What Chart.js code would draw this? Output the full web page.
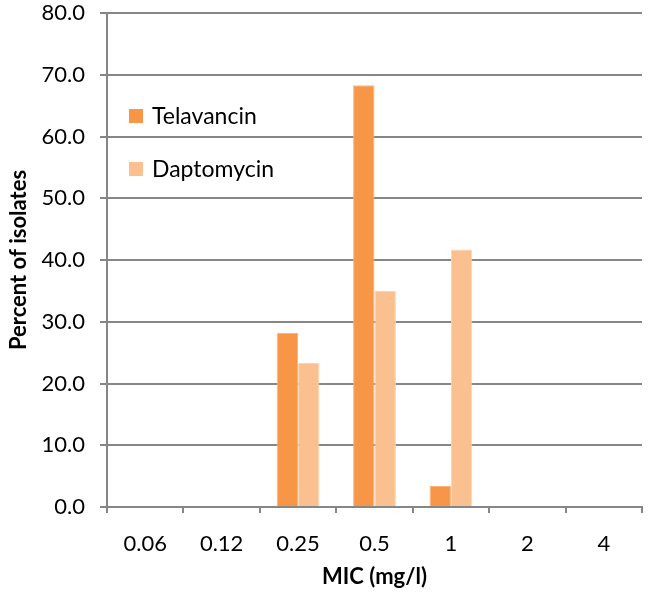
<!DOCTYPE html>
<html>
<head>
<meta charset="utf-8">
<script src="https://cdn.jsdelivr.net/npm/chart.js@4/dist/chart.umd.min.js"></script>
<style>
  html, body { margin: 0; padding: 0; background: #fff; }
  #wrap { width: 648px; height: 597px; }
</style>
</head>
<body>
<div id="wrap"><canvas id="micChart"></canvas></div>
<script>
const micLabels = ['0.06', '0.12', '0.25', '0.5', '1', '2', '4'];
const telavancin = [0, 0, 28.2, 68.3, 3.4, 0, 0];
const daptomycin = [0, 0, 23.3, 35.0, 41.7, 0, 0];
const seriesNames = ['Telavancin', 'Daptomycin'];
const seriesColors = ['#F79646', '#FAC090'];

const fontFamily = 'Lato, "Open Sans", sans-serif';
const axisGrey = '#868686';

// legend drawn inside plot area, top left
const insideLegend = {
    id: 'insideLegend',
    afterDraw(chart) {
        const ctx = chart.ctx;
        const area = chart.chartArea;
        ctx.save();
        ctx.font = '23px ' + fontFamily;
        ctx.textBaseline = 'middle';
        chart.data.datasets.forEach((ds, i) => {
            const y = area.top + 103 + i * 53;
            ctx.fillStyle = ds.backgroundColor;
            ctx.fillRect(area.left + 22, y - 7, 14, 14);
            ctx.fillStyle = '#000';
            ctx.fillText(ds.label, area.left + 45, y + 1);
        });
        ctx.restore();
    }
};

new Chart(document.getElementById('micChart'), {
    type: 'bar',
    data: {
        labels: micLabels,
        datasets: [
            { label: seriesNames[0], data: telavancin, backgroundColor: seriesColors[0], borderColor: '#FBB27A', borderWidth: 1 },
            { label: seriesNames[1], data: daptomycin, backgroundColor: seriesColors[1], borderColor: '#FCD4B0', borderWidth: 1 }
        ]
    },
    options: {
        responsive: true,
        maintainAspectRatio: false,
        animation: false,
        datasets: { bar: { categoryPercentage: 0.56, barPercentage: 1.0 } },
        layout: { padding: { top: 13, right: 6, left: 0, bottom: 0 } },
        plugins: {
            legend: { display: false },
            tooltip: { enabled: false }
        },
        scales: {
            x: {
                grid: { display: true, drawOnChartArea: false, drawTicks: true, tickLength: 6, color: axisGrey, lineWidth: 2, offset: true },
                border: { display: true, color: axisGrey, width: 2 },
                ticks: { color: '#000', font: { family: fontFamily, size: 22 }, padding: 18 },
                title: { display: true, text: 'MIC (mg/l)', color: '#000', font: { family: fontFamily, size: 22, weight: 'bold' }, padding: { top: 4, bottom: 7 } },
                afterFit(scale) { scale.height = 90; }
            },
            y: {
                min: 0,
                max: 80,
                ticks: { stepSize: 10, color: '#000', font: { family: fontFamily, size: 22 }, padding: 15, callback: v => v.toFixed(1) },
                grid: { color: axisGrey, lineWidth: 2, tickLength: 7 },
                border: { display: true, color: axisGrey, width: 2 },
                title: { display: true, text: 'Percent of isolates', color: '#000', font: { family: fontFamily, size: 22, weight: 'bold' }, padding: { top: 6, bottom: 0 } },
                afterFit(scale) {
                    scale.width = 107;
                    scale.paddingTop = 0;
                    scale.paddingBottom = 0;
                }
            }
        }
    },
    plugins: [insideLegend]
});
</script>
</body>
</html>
